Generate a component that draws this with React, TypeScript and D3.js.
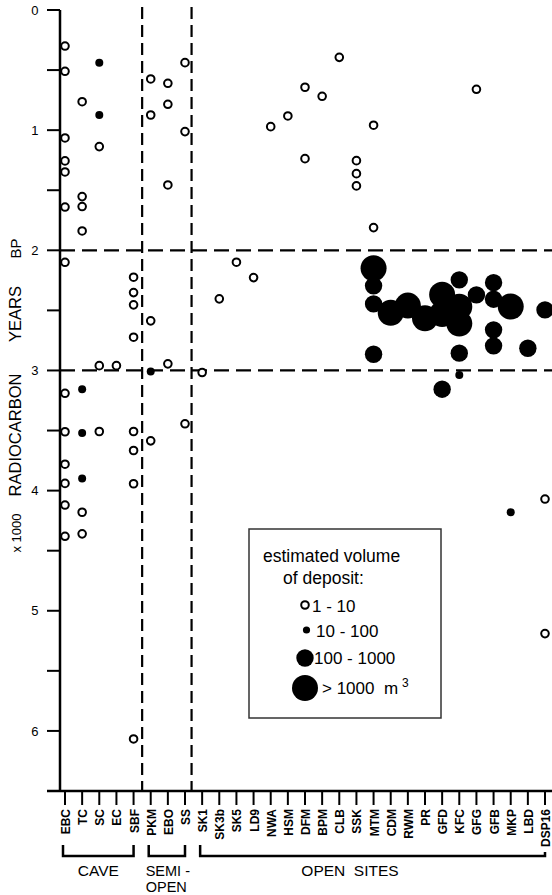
import React from "react";
import * as d3 from "d3";

// sites along the x axis
const sites = [
  "EBC", "TC", "SC", "EC", "SBF", "PKM", "EBO", "SS",
  "SK1", "SK3b", "SK5", "LD9", "NWA", "HSM", "DFM", "BPM", "CLB", "SSK",
  "MTM", "CDM", "RWM", "PR", "GFD", "KFC", "GFG", "GFB", "MKP", "LBD", "DSP16",
];

const yTicks = [0, 1, 2, 3, 4, 5, 6];
const yMinorTicks = [0.5, 1.5, 2.5, 3.5, 4.5, 5.5];

// [site, age x1000 BP] by estimated volume of deposit
const vol1to10: [string, number][] = [
  ["EBC", 0.3], ["EBC", 0.51], ["EBC", 1.065], ["EBC", 1.256], ["EBC", 1.348], ["EBC", 1.64],
  ["EBC", 2.1], ["EBC", 3.19], ["EBC", 3.51], ["EBC", 3.78], ["EBC", 3.94], ["EBC", 4.12], ["EBC", 4.38],
  ["TC", 0.763], ["TC", 1.553], ["TC", 1.636], ["TC", 1.839], ["TC", 4.18], ["TC", 4.36],
  ["SC", 1.137], ["SC", 2.96], ["SC", 3.508],
  ["EC", 2.96],
  ["SBF", 2.224], ["SBF", 2.352], ["SBF", 2.454], ["SBF", 2.723], ["SBF", 3.508], ["SBF", 3.666],
  ["SBF", 3.943], ["SBF", 6.067],
  ["PKM", 0.574], ["PKM", 0.874], ["PKM", 2.587], ["PKM", 3.586],
  ["EBO", 0.61], ["EBO", 0.785], ["EBO", 1.456], ["EBO", 2.945],
  ["SS", 0.438], ["SS", 1.012], ["SS", 3.444],
  ["SK1", 3.017], ["SK3b", 2.404], ["SK5", 2.099], ["LD9", 2.227],
  ["NWA", 0.971], ["HSM", 0.882], ["DFM", 0.643], ["DFM", 1.237], ["BPM", 0.718], ["CLB", 0.394],
  ["SSK", 1.254], ["SSK", 1.362], ["SSK", 1.464],
  ["MTM", 0.959], ["MTM", 1.811],
  ["GFG", 0.66],
  ["DSP16", 4.07], ["DSP16", 5.19],
];

const vol10to100: [string, number][] = [
  ["SC", 0.438], ["SC", 0.874],
  ["TC", 3.156], ["TC", 3.52], ["TC", 3.9],
  ["PKM", 3.009], ["KFC", 3.037], ["MKP", 4.18],
];

const vol100to1000: [string, number][] = [
  ["MTM", 2.296], ["MTM", 2.446], ["MTM", 2.865],
  ["GFD", 3.156],
  ["KFC", 2.246], ["KFC", 2.856],
  ["GFG", 2.371],
  ["GFB", 2.269], ["GFB", 2.407], ["GFB", 2.662], ["GFB", 2.795],
  ["LBD", 2.815], ["DSP16", 2.496],
];

const volOver1000: [string, number][] = [
  ["MTM", 2.149], ["CDM", 2.52], ["RWM", 2.46], ["PR", 2.565],
  ["GFD", 2.37], ["GFD", 2.53], ["KFC", 2.47], ["KFC", 2.61], ["MKP", 2.468],
];

const groups = [
  { label: "CAVE", from: "EBC", to: "SBF" },
  { label: "SEMI -", from: "PKM", to: "SS" },
  { label: "OPEN  SITES", from: "SK1", to: "DSP16" },
];

const font = "'Liberation Sans', Arial, Helvetica, sans-serif";

const App = () => {
  const width = 552;
  const height = 895;
  const x = d3.scalePoint().domain(sites).range([65, 545]);
  const y = d3.scaleLinear().domain([0, 6.5]).range([10, 791]);
  const axisY = 791;
  const axisX = 60;
  const sw = 2.5;

  const mid = (a: string, b: string) => ((x(a) as number) + (x(b) as number)) / 2;
  const div1 = mid("SBF", "PKM");
  const div2 = mid("SS", "SK1") - 2;

  return (
    <div style={{ position: "absolute", left: 0, top: 0 }}>
      <svg width={width} height={height} style={{ display: "block", background: "#fff" }} fontFamily={font}>
        {/* y axis */}
        <line x1={axisX} x2={axisX} y1={y(0)} y2={axisY} stroke="#000" strokeWidth={sw} />
        {yTicks.map((t) => (
          <g key={t}>
            <line x1={47} x2={axisX} y1={y(t)} y2={y(t)} stroke="#000" strokeWidth={2} />
            <text x={38.5} y={y(t)} dy="0.36em" textAnchor="end" fontSize={13}>{t}</text>
          </g>
        ))}
        {yMinorTicks.map((t) => (
          <line key={t} x1={47} x2={axisX} y1={y(t)} y2={y(t)} stroke="#000" strokeWidth={2} />
        ))}
        <text transform={`translate(21,533) rotate(-90)`} textAnchor="middle" fontSize={13}>x 1000</text>
        <text transform={`translate(21,435) rotate(-90)`} textAnchor="middle" fontSize={16.5}>RADIOCARBON</text>
        <text transform={`translate(21,314) rotate(-90)`} textAnchor="middle" fontSize={16.5}>YEARS</text>
        <text transform={`translate(21,248.5) rotate(-90)`} textAnchor="middle" fontSize={15}>BP</text>

        {/* x axis */}
        <line x1={47} x2={width} y1={axisY} y2={axisY} stroke="#000" strokeWidth={sw} />
        {sites.map((s) => (
          <g key={s}>
            <line x1={x(s)} x2={x(s)} y1={axisY} y2={805} stroke="#000" strokeWidth={2} />
            <text
              transform={`translate(${(x(s) as number) + 5},809) rotate(-90)`}
              textAnchor="end"
              fontSize={12}
              fontWeight="bold"
            >
              {s}
            </text>
          </g>
        ))}

        {/* group brackets */}
        {groups.map((g) => {
          const x0 = (x(g.from) as number) - 2;
          const x1 = (x(g.to) as number);
          const rightTop = g.to === "DSP16" ? 852 : 845;
          return (
            <g key={g.label}>
              <path
                d={`M${x0},845 V856 H${x1} V${rightTop}`}
                fill="none"
                stroke="#000"
                strokeWidth={sw}
              />
              {g.label === "SEMI -" ? (
                <g>
                  <text x={x0 - 3} y={876} fontSize={14.5} style={{ whiteSpace: "pre" }}>SEMI -</text>
                  <text x={x0 - 3} y={892} fontSize={14.5}>OPEN</text>
                </g>
              ) : (
                <text
                  x={g.label === "CAVE" ? (x0 + x1) / 2 : 350}
                  y={876}
                  textAnchor="middle"
                  fontSize={15.5}
                  style={{ whiteSpace: "pre" }}
                >
                  {g.label}
                </text>
              )}
            </g>
          );
        })}

        {/* dashed period lines */}
        {[div1, div2].map((d) => (
          <line key={d} x1={d} x2={d} y1={7} y2={axisY} stroke="#000" strokeWidth={2.2} strokeDasharray="12,6" />
        ))}
        {[2, 3].map((t) => (
          <line key={t} x1={axisX} x2={width} y1={y(t)} y2={y(t)} stroke="#000" strokeWidth={2.2} strokeDasharray="15,7" />
        ))}

        {/* points */}
        {volOver1000.map(([s, v], i) => (
          <circle key={"l" + i} cx={x(s)} cy={y(v)} r={13} fill="#000" />
        ))}
        {vol100to1000.map(([s, v], i) => (
          <circle key={"m" + i} cx={x(s)} cy={y(v)} r={8.7} fill="#000" />
        ))}
        {vol10to100.map(([s, v], i) => (
          <circle key={"s" + i} cx={x(s)} cy={y(v)} r={4} fill="#000" />
        ))}
        {vol1to10.map(([s, v], i) => (
          <circle key={"o" + i} cx={x(s)} cy={y(v)} r={3.8} fill="#fff" stroke="#000" strokeWidth={2} />
        ))}

        {/* legend */}
        <g>
          <rect x={249} y={529} width={192} height={189} fill="#fff" stroke="#333" strokeWidth={1.5} />
          <text x={263} y={562} fontSize={17.5}>estimated volume</text>
          <text x={283} y={584} fontSize={17.5}>of deposit:</text>
          <circle cx={305} cy={605} r={3.8} fill="#fff" stroke="#000" strokeWidth={2} />
          <text x={312} y={611.5} fontSize={17} style={{ whiteSpace: "pre" }}>1 - 10</text>
          <circle cx={306.5} cy={630} r={3.6} fill="#000" />
          <text x={316} y={636.5} fontSize={17} style={{ whiteSpace: "pre" }}>10 - 100</text>
          <circle cx={305} cy={658} r={8.7} fill="#000" />
          <text x={314} y={664} fontSize={17} style={{ whiteSpace: "pre" }}>100 - 1000</text>
          <circle cx={305} cy={688} r={13} fill="#000" />
          <text x={322} y={694} fontSize={17} style={{ whiteSpace: "pre" }}>
            {"> 1000  m"}
            <tspan dx={4} dy={-7} fontSize={12}>3</tspan>
          </text>
        </g>
      </svg>
    </div>
  );
};

export default App;
